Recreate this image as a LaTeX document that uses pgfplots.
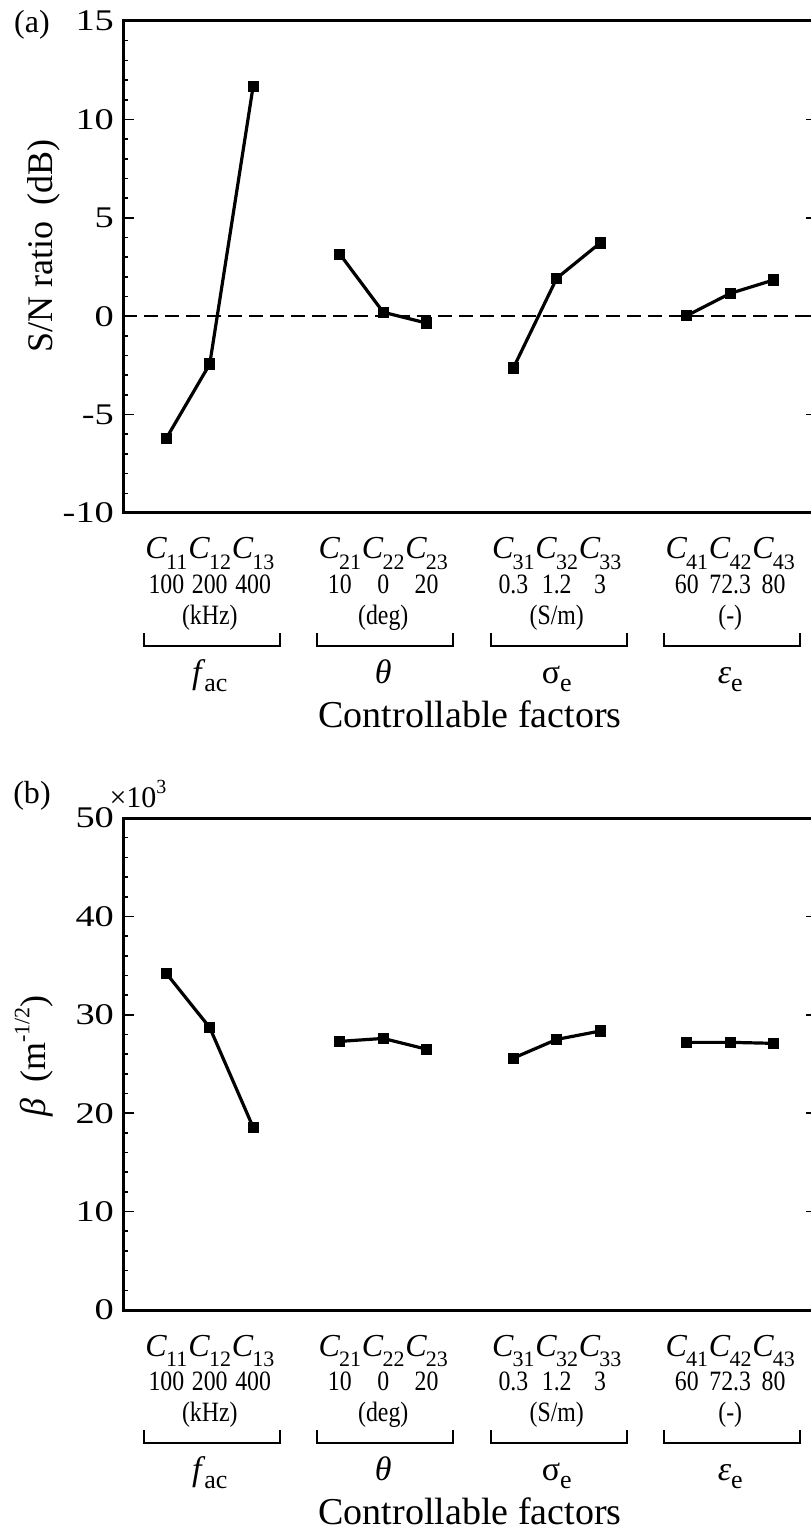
\documentclass[border=0pt]{standalone}
\usepackage{fontspec}
\setmainfont{Liberation Serif}
\newfontfamily\tickfont[FakeStretch=1.28]{Liberation Serif}
\newfontfamily\numfont[FakeStretch=0.85]{Liberation Serif}
\usepackage{pgfplots}
\pgfplotsset{compat=1.18}

% factor label C_{ij}
\newcommand\C[2]{\textit{C}\kern-0.5pt\raisebox{-0.32em}{\fontsize{11}{11}\selectfont #1#2}}
\newcommand\sub[1]{\raisebox{-0.25em}{\fontsize{13}{13}\selectfont #1}}

% labels under one group: #1 centre x, #2 factor no., #3-#5 levels, #6 unit, #7 symbol, #8 ymin
\newcommand\grp[8]{%
  \node[cf,anchor=base,xshift=-21.69pt,yshift=-23pt] at (axis cs:#1,#8) {\C{#2}{1}};
  \node[cf,anchor=base,yshift=-23pt] at (axis cs:#1,#8) {\C{#2}{2}};
  \node[cf,anchor=base,xshift=21.69pt,yshift=-23pt] at (axis cs:#1,#8) {\C{#2}{3}};
  \node[nf,anchor=base,xshift=-21.69pt,yshift=-40pt] at (axis cs:#1,#8) {#3};
  \node[nf,anchor=base,yshift=-40pt] at (axis cs:#1,#8) {#4};
  \node[nf,anchor=base,xshift=21.69pt,yshift=-40pt] at (axis cs:#1,#8) {#5};
  \node[nf,anchor=base,yshift=-55.5pt] at (axis cs:#1,#8) {#6};
  \draw[line width=1pt]
    ([xshift=-33pt,yshift=-60pt]axis cs:#1,#8) --
    ([xshift=-33pt,yshift=-66.5pt]axis cs:#1,#8) --
    ([xshift=35pt,yshift=-66.5pt]axis cs:#1,#8) --
    ([xshift=35pt,yshift=-60pt]axis cs:#1,#8);
  \node[sf,anchor=base,yshift=-85pt] at (axis cs:#1,#8) {#7};
}

\tikzset{
  cf/.style={font=\fontsize{16}{16}\selectfont, inner sep=0pt},
  nf/.style={font=\numfont\fontsize{14}{14}\selectfont, inner sep=0pt},
  sf/.style={font=\fontsize{17}{17}\selectfont, inner sep=0pt},
}

\pgfplotsset{
  panel/.style={
    scale only axis, width=347pt, height=246pt, anchor=north west,
    xmin=-1, xmax=15, xtick=\empty,
    axis line style={line width=1.5pt},
    ytick pos=both, tick align=inside,
    minor y tick num=4,
    major tick length=5.5pt, minor tick length=2.5pt,
    every tick/.style={black, line width=0.8pt},
    yticklabel style={font=\tickfont\fontsize{15}{15}\selectfont, xshift=-1pt},
    clip=false,
  },
  dat/.style={black, line width=1.6pt, mark=square*, mark size=2pt},
}

\begin{document}
\begin{tikzpicture}
\useasboundingbox (0,0) rectangle (405pt,-767pt);

% ---- (a) S/N ratio
\begin{axis}[panel, at={(61.5pt,-10.5pt)},
  ymin=-10, ymax=15,
  ytick={-10,-5,0,5,10,15}, yticklabels={-10,-5,0,5,10,15}]
\addplot[black, line width=0.7pt, dash pattern=on 7pt off 3.5pt] coordinates {(-1,0) (15,0)};
\addplot[dat] coordinates {(0,-6.2) (1,-2.43) (2,11.68)};
\addplot[dat] coordinates {(4,3.15) (5,0.2) (6,-0.35)};
\addplot[dat] coordinates {(8,-2.63) (9,1.93) (10,3.72)};
\addplot[dat] coordinates {(12,0.03) (13,1.16) (14,1.84)};
\grp{1}{1}{100}{200}{400}{(kHz)}{\textit{f}\kern-0.5pt\sub{ac}}{-10}
\grp{5}{2}{10}{0}{20}{(deg)}{\textit{θ}}{-10}
\grp{9}{3}{0.3}{1.2}{3}{(S/m)}{σ\sub{e}}{-10}
\grp{13}{4}{60}{72.3}{80}{(-)}{\textit{ε}\sub{e}}{-10}
\node[anchor=base, font=\fontsize{19}{19}\selectfont, yshift=-107pt] at (axis cs:7,-10) {Controllable factors};
\end{axis}
\node[font=\fontsize{18}{18}\selectfont, rotate=90] at (22pt,-123pt) {S/N ratio\hspace{0.45em}(dB)};
\node[font=\fontsize{16}{16}\selectfont] at (16pt,-12.5pt) {(a)};

% ---- (b) beta
\begin{axis}[panel, at={(61.5pt,-409pt)},
  ymin=0, ymax=50,
  ytick={0,10,20,30,40,50}, yticklabels={0,10,20,30,40,50}]
\addplot[dat] coordinates {(0,34.2) (1,28.7) (2,18.57)};
\addplot[dat] coordinates {(4,27.3) (5,27.6) (6,26.5)};
\addplot[dat] coordinates {(8,25.6) (9,27.5) (10,28.35)};
\addplot[dat] coordinates {(12,27.2) (13,27.2) (14,27.1)};
\grp{1}{1}{100}{200}{400}{(kHz)}{\textit{f}\kern-0.5pt\sub{ac}}{0}
\grp{5}{2}{10}{0}{20}{(deg)}{\textit{θ}}{0}
\grp{9}{3}{0.3}{1.2}{3}{(S/m)}{σ\sub{e}}{0}
\grp{13}{4}{60}{72.3}{80}{(-)}{\textit{ε}\sub{e}}{0}
\node[anchor=base, font=\fontsize{19}{19}\selectfont, yshift=-107pt] at (axis cs:7,0) {Controllable factors};
\end{axis}
\node[font=\fontsize{18}{18}\selectfont, rotate=90] at (17pt,-528pt) {\textit{β}\hspace{0.45em}(m\raisebox{0.45em}{\fontsize{11}{11}\selectfont -1/2})};
\node[font=\fontsize{16}{16}\selectfont] at (16pt,-398pt) {(b)};
\node[font=\fontsize{15}{15}\selectfont] at (69pt,-397pt) {×10\raisebox{0.45em}{\fontsize{10}{10}\selectfont 3}};
\end{tikzpicture}
\end{document}
